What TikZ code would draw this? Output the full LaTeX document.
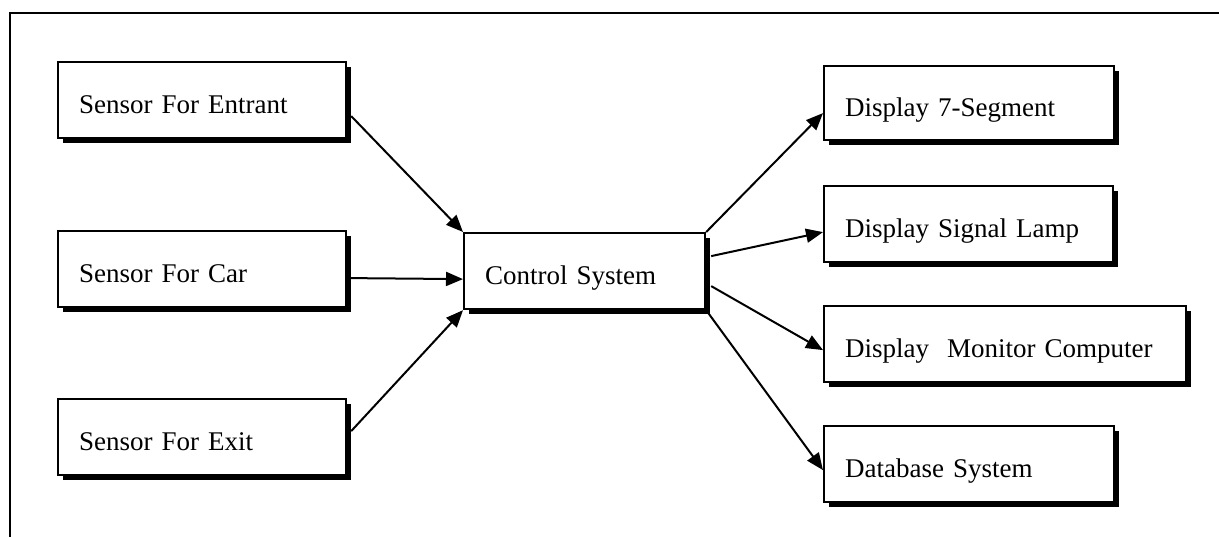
\documentclass[tikz,border=0pt]{standalone}
\usepackage{fontspec}
\setmainfont{Liberation Serif}
\usetikzlibrary{shadows,arrows.meta,calc}
\tikzset{
  blk/.style={draw=black, line width=2.2pt, fill=white, anchor=north west,
    inner xsep=21pt, inner ysep=0pt, align=left, minimum height=76pt,
    text height=26pt, text depth=0pt,
    font=\fontsize{27}{32}\selectfont,
    general shadow={fill=black, shadow xshift=4.5pt, shadow yshift=-5pt}},
  conn/.style={line width=2pt, -{Triangle[length=17pt,width=14pt]}}
}
\begin{document}
\begin{tikzpicture}[x=1pt,y=-1pt]
\useasboundingbox (0,0) rectangle (1219,536);
\draw[line width=2.5pt] (10,540) -- (10,13) -- (1225,13);
\node[blk, text width=246pt] (ent) at (57,61) {Sensor For Entrant};
\node[blk, text width=246pt] (car) at (57,230) {Sensor For Car};
\node[blk, text width=246pt] (exit) at (57,398) {Sensor For Exit};
\node[blk, text width=199pt] (ctrl) at (463,232) {Control System};
\node[blk, text width=248pt, minimum height=74pt] (seg) at (823,65) {Display 7-Segment};
\node[blk, text width=247pt] (lamp) at (823,185) {Display Signal Lamp};
\node[blk, text width=320pt] (mon) at (823,305) {Display\ \ Monitor Computer};
\node[blk, text width=248pt] (db) at (823,425) {Database System};
\draw[conn] ([yshift=-16pt,xshift=4pt]ent.east) -- (ctrl.north west);
\draw[conn] ([yshift=-9pt,xshift=4pt]car.east) -- ([yshift=-8pt]ctrl.west);
\draw[conn] ([yshift=6pt,xshift=4pt]exit.east) -- (ctrl.south west);
\draw[conn] (ctrl.north east) -- ([yshift=-10pt]seg.west);
\draw[conn] ([yshift=15pt,xshift=5pt]ctrl.east) -- ([yshift=-8pt]lamp.west);
\draw[conn] ([yshift=-15pt,xshift=5pt]ctrl.east) -- ([yshift=-6pt]mon.west);
\draw[conn] (ctrl.south east) -- ([yshift=-6pt]db.west);
\end{tikzpicture}
\end{document}
